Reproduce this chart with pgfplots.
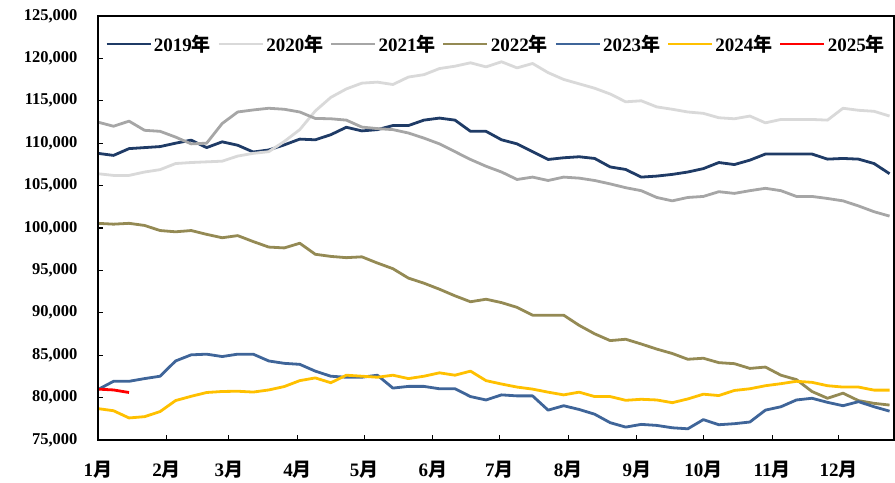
\documentclass[border=0pt]{standalone}
\usepackage{fontspec}
\setmainfont{Liberation Serif}
\newfontfamily\cjk{Noto Sans CJK SC}
\usepackage{pgfplots}
\pgfplotsset{compat=1.18}
\usepackage{pgfplotstable}

\definecolor{c2019}{HTML}{1F3B66}
\definecolor{c2020}{HTML}{D9D9D9}
\definecolor{c2021}{HTML}{A6A6A6}
\definecolor{c2022}{HTML}{948A54}
\definecolor{c2023}{HTML}{3F6599}
\definecolor{c2024}{HTML}{FFC000}
\definecolor{c2025}{HTML}{FF0000}

\newcommand{\yue}{{\cjk 月}}
\newcommand{\nian}{{\cjk 年}}

% weekly values, x = day of year
\pgfplotstableread{
x y2019 y2020 y2021 y2022 y2023 y2024
0 108800 106400 112480 100550 80950 78700
7 108560 106200 112000 100450 81920 78450
14 109360 106200 112600 100550 81920 77600
21 109480 106600 111520 100300 82240 77750
28 109600 106880 111400 99700 82520 78350
35 110000 107600 110720 99550 84320 79650
42 110360 107720 109920 99700 85040 80150
49 109480 107800 110000 99250 85120 80600
56 110160 107880 112320 98850 84840 80720
63 109760 108480 113680 99100 85120 80750
70 108960 108800 113920 98400 85120 80650
77 109200 109000 114120 97750 84320 80900
84 109800 110200 114000 97650 84040 81300
91 110480 111600 113680 98200 83920 82000
98 110400 113800 112920 96900 83120 82320
105 111000 115400 112880 96650 82520 81750
112 111880 116400 112720 96500 82400 82640
119 111450 117080 111900 96600 82400 82520
126 111600 117200 111720 95870 82640 82400
133 112080 116920 111600 95200 81120 82640
140 112080 117800 111200 94090 81320 82240
147 112720 118080 110600 93490 81320 82520
154 112960 118800 109920 92780 81040 82920
161 112720 119080 109000 92000 81040 82640
168 111400 119480 108080 91300 80120 83120
175 111400 119000 107280 91600 79720 82000
182 110400 119600 106600 91200 80320 81600
189 109920 118880 105720 90640 80200 81240
196 109000 119400 106000 89720 80200 81000
203 108080 118320 105600 89720 78520 80640
210 108280 117520 106000 89720 79040 80320
217 108400 117000 105880 88520 78600 80640
224 108200 116480 105600 87520 78040 80120
231 107200 115800 105200 86720 77040 80120
238 106900 114880 104750 86880 76520 79680
245 106000 115000 104400 86320 76840 79800
252 106120 114280 103600 85720 76720 79720
259 106320 114000 103200 85200 76440 79400
266 106600 113680 103600 84520 76320 79840
273 107000 113520 103720 84640 77400 80400
280 107720 113000 104280 84120 76800 80240
287 107480 112880 104080 84000 76920 80840
294 108000 113200 104400 83440 77120 81040
301 108720 112400 104680 83600 78520 81400
308 108720 112800 104400 82640 78920 81640
315 108720 112800 103720 82120 79720 81920
322 108720 112800 103720 80720 79920 81800
329 108120 112720 103480 79920 79440 81400
336 108200 114120 103200 80520 79040 81240
343 108120 113880 102600 79640 79520 81240
350 107600 113760 101920 79320 78920 80880
357 106400 113200 101400 79120 78400 80880
}\weekly

\pgfplotstableread{
x y2025
0 81000
7 80900
14 80600
}\ytd

\begin{document}
\begin{tikzpicture}
\begin{axis}[
    scale only axis,
    width=796pt, height=424pt,
    xmin=0, xmax=359,
    ymin=75000, ymax=125000,
    scaled x ticks=false, scaled y ticks=false,
    xtick={0,31,59,90,120,151,181,212,243,273,304,334},
    xticklabels={1\yue,2\yue,3\yue,4\yue,5\yue,6\yue,7\yue,8\yue,9\yue,10\yue,11\yue,12\yue},
    ytick={75000,80000,85000,90000,95000,100000,105000,110000,115000,120000,125000},
    yticklabels={{75,000},{80,000},{85,000},{90,000},{95,000},{100,000},{105,000},{110,000},{115,000},{120,000},{125,000}},
    tick align=inside,
    xtick pos=bottom, ytick pos=left,
    major tick length=5pt,
    tick style={black, line width=1.1pt},
    axis line style={black, line width=1.3pt},
    x tick label style={font=\bfseries\fontsize{19}{19}\selectfont, yshift=-18pt},
    y tick label style={font=\bfseries\fontsize{16.5}{16.5}\selectfont, xshift=-17pt},
    every axis plot/.append style={line width=2.8pt, line join=round},
    legend style={at={(0.5,0.934)}, anchor=center, draw=none, fill=none,
        legend columns=-1, font=\bfseries\fontsize{19}{19}\selectfont,
        nodes={inner sep=2pt},
        /tikz/every even column/.append style={column sep=4.5pt}},
    legend image code/.code={\draw[#1] (0pt,0pt) -- (44pt,0pt);},
]
\addplot[c2019] table[x=x, y=y2019] {\weekly};
\addlegendentry{2019\nian}
\addplot[c2020] table[x=x, y=y2020] {\weekly};
\addlegendentry{2020\nian}
\addplot[c2021] table[x=x, y=y2021] {\weekly};
\addlegendentry{2021\nian}
\addplot[c2022] table[x=x, y=y2022] {\weekly};
\addlegendentry{2022\nian}
\addplot[c2023] table[x=x, y=y2023] {\weekly};
\addlegendentry{2023\nian}
\addplot[c2024] table[x=x, y=y2024] {\weekly};
\addlegendentry{2024\nian}
\addplot[c2025] table[x=x, y=y2025] {\ytd};
\addlegendentry{2025\nian}
\end{axis}
\draw[black, line width=1.3pt] (current axis.south west) rectangle (current axis.north east);
\path ([shift={(-98pt,-40pt)}]current axis.south west)
    rectangle ([shift={(1pt,16pt)}]current axis.north east);
\end{tikzpicture}
\end{document}
